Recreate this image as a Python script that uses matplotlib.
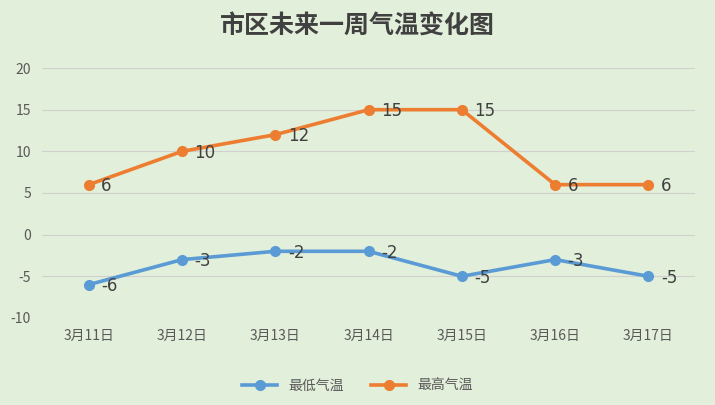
import matplotlib
matplotlib.use("Agg")
import matplotlib.pyplot as plt

plt.rcParams['font.family'] = ['Noto Sans CJK SC', 'DejaVu Sans']
plt.rcParams['axes.unicode_minus'] = False

categories = ["3月11日", "3月12日", "3月13日", "3月14日", "3月15日", "3月16日", "3月17日"]
low = [-6, -3, -2, -2, -5, -3, -5]
high = [6, 10, 12, 15, 15, 6, 6]
yticks = [-10, -5, 0, 5, 10, 15, 20]

bg = "#E2EFDA"
fig = plt.figure(figsize=(7.15, 4.05), dpi=100, facecolor=bg)
ax = fig.add_axes([0.059, 0.215, 0.913, 0.617], facecolor=bg)
x = list(range(len(categories)))
ax.plot(x, low, color="#5B9BD5", lw=2.6, marker="o", ms=7, label="最低气温")
ax.plot(x, high, color="#ED7D31", lw=2.6, marker="o", ms=7, label="最高气温")
for series in (low, high):
    for xi, v in zip(x, series):
        ax.annotate(str(v), (xi, v), xytext=(9, -1), textcoords="offset points", va="center",
                    fontsize=12, color="#404040", family="DejaVu Sans")
ax.set_xlim(-0.5, 6.5)
ax.set_ylim(-10, 20)
ax.set_yticks(yticks)
ax.set_xticks(x)
ax.set_xticklabels(categories)
ax.grid(axis="y", color="#D0D0D0", lw=0.8)
ax.set_axisbelow(True)
for s in ["top", "right", "left", "bottom"]:
    ax.spines[s].set_visible(False)
ax.tick_params(length=0, labelsize=10, colors="#595959", pad=8)
fig.suptitle("市区未来一周气温变化图", y=0.965, fontsize=18, fontweight="bold", color="#404040")
fig.legend(loc="lower center", bbox_to_anchor=(0.5, 0.0), ncol=2, frameon=False, fontsize=10,
           labelcolor="#595959", handlelength=2.5, columnspacing=2)
fig.savefig("out.png", dpi=100, facecolor=bg)
